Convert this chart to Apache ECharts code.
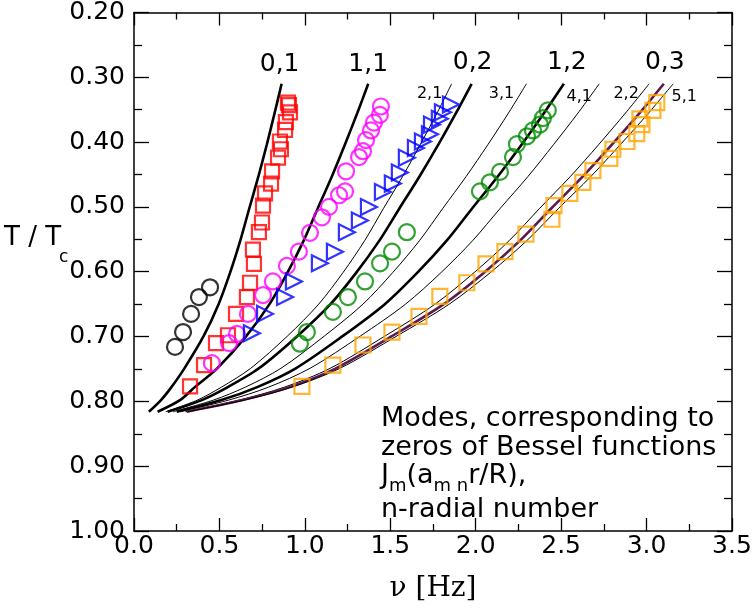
<!DOCTYPE html>
<html>
<head>
<meta charset="utf-8">
<script src="https://cdn.jsdelivr.net/npm/echarts@6/dist/echarts.min.js"></script>
<style>
  html, body { margin: 0; padding: 0; background: #fff; }
  #chart { width: 755px; height: 608px; }
</style>
</head>
<body>
<div id="chart"></div>
<script>
const curveT = [0.816, 0.798, 0.778, 0.749, 0.699, 0.650, 0.601, 0.552, 0.502, 0.453, 0.404, 0.355, 0.310];

// frequency (Hz) of each Bessel mode curve at the levels above
const mode01 = [0.087, 0.158, 0.219, 0.295, 0.408, 0.495, 0.563, 0.622, 0.675, 0.728, 0.777, 0.823, 0.864];
const mode11 = [0.138, 0.269, 0.356, 0.487, 0.658, 0.793, 0.899, 0.993, 1.076, 1.158, 1.234, 1.307, 1.371];
const mode21 = [0.186, 0.371, 0.512, 0.683, 0.899, 1.081, 1.224, 1.350, 1.461, 1.572, 1.675, 1.774, 1.859];
const mode02 = [0.197, 0.397, 0.549, 0.731, 0.957, 1.150, 1.302, 1.436, 1.554, 1.671, 1.781, 1.885, 1.976];
const mode31 = [0.229, 0.465, 0.652, 0.860, 1.115, 1.340, 1.515, 1.671, 1.808, 1.944, 2.071, 2.192, 2.297];
const mode12 = [0.250, 0.511, 0.721, 0.947, 1.223, 1.468, 1.660, 1.830, 1.980, 2.129, 2.268, 2.400, 2.516];
const mode41 = [0.270, 0.554, 0.788, 1.030, 1.326, 1.589, 1.798, 1.982, 2.144, 2.306, 2.455, 2.599, 2.723];
const mode22 = [0.300, 0.616, 0.881, 1.148, 1.470, 1.762, 1.992, 2.196, 2.375, 2.554, 2.719, 2.877, 3.015];
const mode03 = [0.308, 0.635, 0.909, 1.182, 1.512, 1.813, 2.050, 2.259, 2.443, 2.627, 2.797, 2.960, 3.101];
const mode51 = [0.313, 0.647, 0.926, 1.205, 1.539, 1.845, 2.087, 2.299, 2.486, 2.674, 2.846, 3.012, 3.156];

// measured points [nu, T/Tc]
const blackCircles = [[0.240, 0.716], [0.287, 0.693], [0.334, 0.665], [0.380, 0.639], [0.445, 0.624]];
const redSquares = [
  [0.328, 0.777], [0.410, 0.744], [0.480, 0.710], [0.550, 0.698], [0.597, 0.665], [0.661, 0.639],
  [0.679, 0.617], [0.702, 0.588], [0.696, 0.566], [0.731, 0.539], [0.749, 0.524], [0.755, 0.498],
  [0.767, 0.479], [0.802, 0.464], [0.808, 0.445], [0.843, 0.424], [0.860, 0.411], [0.854, 0.399],
  [0.884, 0.381], [0.889, 0.369], [0.913, 0.354], [0.907, 0.343], [0.901, 0.339]
];
const magentaCircles = [
  [0.456, 0.741], [0.556, 0.710], [0.603, 0.696], [0.667, 0.665], [0.755, 0.636], [0.813, 0.615],
  [0.895, 0.591], [0.965, 0.569], [1.030, 0.540], [1.100, 0.516], [1.141, 0.500], [1.200, 0.482],
  [1.235, 0.476], [1.241, 0.445], [1.317, 0.423], [1.340, 0.414], [1.358, 0.397], [1.387, 0.382],
  [1.404, 0.370], [1.439, 0.358], [1.445, 0.345]
];
const blueTriangles = [
  [0.690, 0.695], [0.767, 0.665], [0.884, 0.639], [0.936, 0.615], [1.088, 0.587], [1.176, 0.569],
  [1.246, 0.539], [1.322, 0.521], [1.375, 0.500], [1.457, 0.477], [1.515, 0.464], [1.556, 0.447],
  [1.597, 0.424], [1.650, 0.409], [1.691, 0.399], [1.732, 0.388], [1.744, 0.373], [1.790, 0.364],
  [1.808, 0.354], [1.855, 0.342]
];
const greenCircles = [
  [0.971, 0.711], [1.012, 0.693], [1.164, 0.662], [1.252, 0.639], [1.352, 0.615], [1.440, 0.587],
  [1.510, 0.569], [1.597, 0.539], [2.025, 0.476], [2.083, 0.462], [2.142, 0.446], [2.218, 0.423],
  [2.241, 0.403], [2.300, 0.391], [2.335, 0.382], [2.376, 0.373], [2.393, 0.363], [2.422, 0.351]
];
const orangeSquares = [
  [0.983, 0.777], [1.164, 0.744], [1.340, 0.713], [1.510, 0.693], [1.668, 0.669], [1.790, 0.638],
  [1.948, 0.617], [2.060, 0.588], [2.171, 0.569], [2.294, 0.542], [2.446, 0.519], [2.458, 0.498],
  [2.551, 0.479], [2.627, 0.462], [2.686, 0.444], [2.785, 0.425], [2.803, 0.411], [2.885, 0.399],
  [2.943, 0.387], [2.973, 0.373], [2.961, 0.364], [3.037, 0.351], [3.060, 0.339]
];

const chart = echarts.init(document.getElementById('chart'), null, { renderer: 'canvas' });
const FONT = '"DejaVu Sans", Arial, sans-serif';

// line look and label placement of each mode
function curve(name, xs, kind, lblOffset) {
  const big = kind !== 'thin';
  const last = xs.length - 1;
  return {
    type: 'line',
    name: name,
    data: xs.map((x, i) => [x, curveT[i]]),
    smooth: 0.3,
    symbol: 'none',
    z: 2,
    lineStyle: {
      width: kind === 'thin' ? 1 : 2.6,
      color: kind === 'purple' ? '#5e1a4c' : '#000'
    },
    markPoint: {
      symbol: 'circle',
      symbolSize: 1,
      silent: true,
      itemStyle: { color: 'rgba(0,0,0,0)' },
      label: {
        show: true,
        position: 'inside',
        formatter: name,
        offset: lblOffset,
        color: '#000',
        fontFamily: FONT,
        fontSize: big ? 25 : 16
      },
      data: [{ coord: [xs[last], curveT[last]] }]
    }
  };
}

function markers(data, symbol, size, color, rotate) {
  return {
    type: 'scatter',
    data: data,
    symbol: symbol,
    symbolSize: size,
    symbolRotate: rotate || 0,
    z: 3,
    itemStyle: { color: 'rgba(0,0,0,0)', borderColor: color, borderWidth: 2.2 }
  };
}

const tickStyle = { color: '#000', width: 1.3 };
function xAx(pos, labels) {
  return {
    type: 'value', position: pos, min: 0, max: 3.5, interval: 0.5,
    axisLine: { show: true, onZero: false, lineStyle: { color: '#000', width: 1.5 } },
    axisTick: { show: true, inside: true, length: 13, lineStyle: tickStyle },
    minorTick: { show: true, splitNumber: 2, length: 7, lineStyle: tickStyle },
    splitLine: { show: false },
    axisLabel: { show: labels, formatter: v => v.toFixed(1), color: '#000', fontSize: 25, fontFamily: FONT, margin: 3 }
  };
}
function yAx(pos, labels) {
  return {
    type: 'value', position: pos, inverse: true, min: 0.2, max: 1.0, interval: 0.1,
    axisLine: { show: true, onZero: false, lineStyle: { color: '#000', width: 1.5 } },
    axisTick: { show: true, inside: true, length: 15, lineStyle: tickStyle },
    minorTick: { show: true, splitNumber: 2, length: 8, lineStyle: tickStyle },
    splitLine: { show: false },
    axisLabel: { show: labels, formatter: v => v.toFixed(2), color: '#000', fontSize: 25, fontFamily: FONT, margin: 9 }
  };
}

const option = {
  animation: false,
  backgroundColor: '#fff',
  grid: { left: 134, right: 23, top: 8, bottom: 68 },
  xAxis: [
    Object.assign(xAx('bottom', true), {
      name: 'ν [Hz]', nameLocation: 'middle', nameGap: 44,
      nameTextStyle: { fontFamily: '"DejaVu Serif", "Liberation Serif", serif', fontSize: 28, color: '#000' }
    }),
    xAx('top', false)
  ],
  yAxis: [yAx('left', true), yAx('right', false)],
  graphic: [
    { type: 'text', left: 4, top: 225, style: { text: 'T / T', font: '26px ' + FONT, fill: '#000' } },
    { type: 'text', left: 59, top: 249, style: { text: 'c', font: '17px ' + FONT, fill: '#000' } },
    {
      type: 'text', left: 381, top: 404,
      style: {
        text: 'Modes, corresponding to\nzeros of Bessel functions\n{b|J}{s|m}{b|(a}{s|m n}{b|r/R),}\nn-radial number',
        font: '27px ' + FONT, fill: '#000', lineHeight: 29,
        rich: {
          b: { fontSize: 27, fontFamily: FONT, lineHeight: 29, verticalAlign: 'top' },
          s: { fontSize: 18, fontFamily: FONT, lineHeight: 33, verticalAlign: 'bottom' }
        }
      }
    }
  ],
  series: [
    curve('0,1', mode01, 'thick', [-2, -19]),
    curve('1,1', mode11, 'thick', [0, -19]),
    curve('2,1', mode21, 'thin', [-22, 10]),
    curve('0,2', mode02, 'thick', [1, -21]),
    curve('3,1', mode31, 'thin', [-25, 10]),
    curve('1,2', mode12, 'thick', [3, -21]),
    curve('4,1', mode41, 'thin', [-20, 13]),
    curve('2,2', mode22, 'thin', [-23, 10]),
    curve('0,3', mode03, 'purple', [1, -21]),
    curve('5,1', mode51, 'thin', [11, 13]),
    markers(blackCircles, 'circle', 16, '#000'),
    markers(redSquares, 'rect', 14, '#ff0000'),
    markers(magentaCircles, 'circle', 16, '#ff00ff'),
    markers(blueTriangles, 'triangle', 16, '#0000ff', -90),
    markers(greenCircles, 'circle', 16, '#008a00'),
    markers(orangeSquares, 'rect', 15, '#ffa500')
  ]
};

chart.setOption(option);
</script>
</body>
</html>
